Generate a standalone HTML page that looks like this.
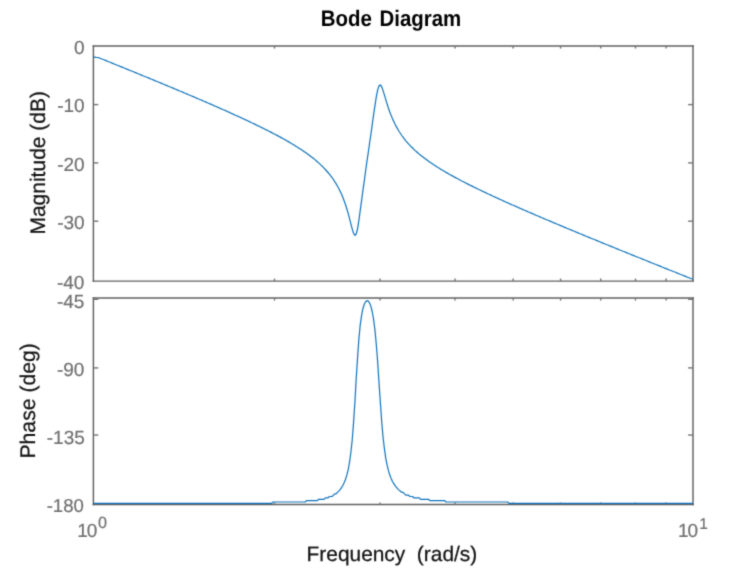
<!DOCTYPE html>
<html lang="en">
<head>
<meta charset="utf-8">
<title>Bode Diagram</title>
<style>
html,body{margin:0;padding:0;background:#fff;}
body{width:751px;height:579px;overflow:hidden;font-family:"Liberation Sans",Arial,Helvetica,sans-serif;}
svg{display:block;}
text{font-family:"Liberation Sans",Arial,Helvetica,sans-serif;text-rendering:geometricPrecision;}
.box line{fill:none;}
.tk line{stroke:#747474;stroke-width:1.4;fill:none;}
.tl text{fill:#707070;font-size:19.0px;stroke:#707070;stroke-width:0.2px;}
.lab{fill:#141414;stroke:#141414;stroke-width:0.25px;}
.title{fill:#000;font-size:20.45px;font-weight:bold;}
.curve{fill:none;stroke:#0f72ba;stroke-width:1.2;stroke-linejoin:round;}
</style>
</head>
<body>
<svg width="751" height="579" viewBox="0 0 751 579">
<defs><filter id="soft" x="0" y="0" width="751" height="579" filterUnits="userSpaceOnUse" color-interpolation-filters="sRGB"><feConvolveMatrix order="3" kernelMatrix="0.0225 0.1050 0.0225 0.1050 0.4900 0.1050 0.0225 0.1050 0.0225" edgeMode="duplicate" preserveAlpha="false"/></filter></defs>
<g filter="url(#soft)">
<rect x="0" y="0" width="751" height="579" fill="#ffffff"/>
<text class="title" transform="translate(391.0,26.4) scale(1,1.10)" text-anchor="middle" word-spacing="2">Bode Diagram</text>
<g class="box">
<line x1="92.68" y1="46.07" x2="693.73" y2="46.07" stroke="#606060" stroke-width="1.45"/>
<line x1="92.68" y1="281.10" x2="693.73" y2="281.10" stroke="#606060" stroke-width="1.45"/>
<line x1="93.40" y1="45.34" x2="93.40" y2="281.83" stroke="#606060" stroke-width="1.45"/>
<line x1="693.00" y1="45.34" x2="693.00" y2="281.83" stroke="#606060" stroke-width="1.45"/>
<line x1="92.68" y1="298.06" x2="693.73" y2="298.06" stroke="#606060" stroke-width="1.45"/>
<line x1="92.68" y1="504.50" x2="693.73" y2="504.50" stroke="#606060" stroke-width="1.45"/>
<line x1="93.40" y1="297.33" x2="93.40" y2="505.23" stroke="#606060" stroke-width="1.45"/>
<line x1="693.00" y1="297.33" x2="693.00" y2="505.23" stroke="#606060" stroke-width="1.45"/>
</g>
<g class="tk">
<line x1="274.50" y1="46.07" x2="274.50" y2="48.57"/>
<line x1="274.50" y1="281.10" x2="274.50" y2="278.60"/>
<line x1="380.08" y1="46.07" x2="380.08" y2="48.57"/>
<line x1="380.08" y1="281.10" x2="380.08" y2="278.60"/>
<line x1="455.00" y1="46.07" x2="455.00" y2="48.57"/>
<line x1="455.00" y1="281.10" x2="455.00" y2="278.60"/>
<line x1="513.10" y1="46.07" x2="513.10" y2="48.57"/>
<line x1="513.10" y1="281.10" x2="513.10" y2="278.60"/>
<line x1="560.58" y1="46.07" x2="560.58" y2="48.57"/>
<line x1="560.58" y1="281.10" x2="560.58" y2="278.60"/>
<line x1="600.72" y1="46.07" x2="600.72" y2="48.57"/>
<line x1="600.72" y1="281.10" x2="600.72" y2="278.60"/>
<line x1="635.49" y1="46.07" x2="635.49" y2="48.57"/>
<line x1="635.49" y1="281.10" x2="635.49" y2="278.60"/>
<line x1="666.16" y1="46.07" x2="666.16" y2="48.57"/>
<line x1="666.16" y1="281.10" x2="666.16" y2="278.60"/>
<line x1="93.40" y1="104.60" x2="98.30" y2="104.60"/>
<line x1="693.00" y1="104.60" x2="688.10" y2="104.60"/>
<line x1="93.40" y1="162.90" x2="98.30" y2="162.90"/>
<line x1="693.00" y1="162.90" x2="688.10" y2="162.90"/>
<line x1="93.40" y1="221.20" x2="98.30" y2="221.20"/>
<line x1="693.00" y1="221.20" x2="688.10" y2="221.20"/>
<line x1="274.50" y1="298.06" x2="274.50" y2="300.56"/>
<line x1="274.50" y1="504.50" x2="274.50" y2="502.60"/>
<line x1="380.08" y1="298.06" x2="380.08" y2="300.56"/>
<line x1="380.08" y1="504.50" x2="380.08" y2="502.60"/>
<line x1="455.00" y1="298.06" x2="455.00" y2="300.56"/>
<line x1="455.00" y1="504.50" x2="455.00" y2="502.60"/>
<line x1="513.10" y1="298.06" x2="513.10" y2="300.56"/>
<line x1="513.10" y1="504.50" x2="513.10" y2="502.60"/>
<line x1="560.58" y1="298.06" x2="560.58" y2="300.56"/>
<line x1="560.58" y1="504.50" x2="560.58" y2="502.60"/>
<line x1="600.72" y1="298.06" x2="600.72" y2="300.56"/>
<line x1="600.72" y1="504.50" x2="600.72" y2="502.60"/>
<line x1="635.49" y1="298.06" x2="635.49" y2="300.56"/>
<line x1="635.49" y1="504.50" x2="635.49" y2="502.60"/>
<line x1="666.16" y1="298.06" x2="666.16" y2="300.56"/>
<line x1="666.16" y1="504.50" x2="666.16" y2="502.60"/>
<line x1="93.40" y1="299.30" x2="98.30" y2="299.30" stroke="#484848"/>
<line x1="693.00" y1="299.30" x2="688.10" y2="299.30" stroke="#484848"/>
<line x1="93.40" y1="367.90" x2="98.30" y2="367.90"/>
<line x1="693.00" y1="367.90" x2="688.10" y2="367.90"/>
<line x1="93.40" y1="435.05" x2="98.30" y2="435.05"/>
<line x1="693.00" y1="435.05" x2="688.10" y2="435.05"/>
</g>
<path class="curve" d="M93.3,57.1 L94.6,57.2 L96.0,57.4 L97.3,57.5 L98.7,57.7 L100.0,58.2 L101.3,58.7 L102.7,59.3 L104.0,59.8 L105.4,60.4 L106.7,60.9 L108.1,61.5 L109.4,62.0 L110.7,62.5 L112.1,63.1 L113.4,63.6 L114.8,64.2 L116.1,64.7 L117.4,65.3 L118.8,65.8 L120.1,66.4 L121.5,66.9 L122.8,67.4 L124.2,68.0 L125.5,68.5 L126.8,69.1 L128.2,69.6 L129.5,70.2 L130.9,70.7 L132.2,71.3 L133.5,71.8 L134.9,72.4 L136.2,72.9 L137.6,73.5 L138.9,74.0 L140.2,74.6 L141.6,75.1 L142.9,75.7 L144.3,76.2 L145.6,76.8 L147.0,77.3 L148.3,77.9 L149.6,78.4 L151.0,79.0 L152.3,79.5 L153.7,80.1 L155.0,80.6 L156.3,81.2 L157.7,81.7 L159.0,82.3 L160.4,82.9 L161.7,83.4 L163.1,84.0 L164.4,84.5 L165.7,85.1 L167.1,85.6 L168.4,86.2 L169.8,86.8 L171.1,87.3 L172.4,87.9 L173.8,88.4 L175.1,89.0 L176.5,89.6 L177.8,90.1 L179.1,90.7 L180.5,91.3 L181.8,91.8 L183.2,92.4 L184.5,93.0 L185.9,93.5 L187.2,94.1 L188.5,94.7 L189.9,95.2 L191.2,95.8 L192.6,96.4 L193.9,96.9 L195.2,97.5 L196.6,98.1 L197.9,98.7 L199.3,99.2 L200.6,99.8 L202.0,100.4 L203.3,101.0 L204.6,101.5 L206.0,102.1 L207.3,102.7 L208.7,103.3 L210.0,103.9 L211.3,104.4 L212.7,105.0 L214.0,105.6 L215.4,106.2 L216.7,106.8 L218.0,107.4 L219.4,108.0 L220.7,108.6 L222.1,109.2 L223.4,109.8 L224.8,110.3 L226.1,110.9 L227.4,111.5 L228.8,112.1 L230.1,112.7 L231.5,113.4 L232.8,114.0 L234.1,114.6 L235.5,115.2 L236.8,115.8 L238.2,116.4 L239.5,117.0 L240.9,117.6 L242.2,118.3 L243.5,118.9 L244.9,119.5 L246.2,120.1 L247.6,120.8 L248.9,121.4 L250.2,122.0 L251.6,122.7 L252.9,123.3 L254.3,123.9 L255.6,124.6 L256.9,125.2 L258.3,125.9 L259.6,126.5 L261.0,127.2 L262.3,127.9 L263.7,128.5 L265.0,129.2 L266.3,129.9 L267.7,130.5 L269.0,131.2 L270.4,131.9 L271.7,132.6 L273.0,133.3 L274.4,134.0 L275.7,134.7 L277.1,135.4 L278.4,136.1 L279.8,136.9 L281.1,137.6 L282.4,138.3 L283.8,139.1 L285.1,139.8 L286.5,140.6 L287.8,141.4 L289.1,142.1 L290.5,142.9 L291.8,143.7 L293.2,144.5 L294.5,145.3 L295.8,146.2 L297.2,147.0 L298.5,147.9 L299.9,148.7 L301.2,149.6 L302.6,150.5 L303.9,151.4 L305.2,152.3 L306.6,153.3 L307.9,154.2 L309.3,155.2 L310.6,156.2 L311.9,157.3 L313.3,158.3 L314.6,159.4 L316.0,160.5 L317.3,161.7 L318.7,162.9 L320.0,164.1 L321.3,165.4 L322.7,166.7 L324.0,168.1 L325.4,169.5 L326.7,171.0 L328.0,172.5 L329.4,174.1 L330.7,175.8 L332.1,177.6 L333.4,179.5 L334.7,181.6 L336.1,183.7 L337.4,186.0 L338.8,188.5 L340.1,191.2 L341.5,194.1 L342.8,197.3 L344.1,200.7 L345.5,204.5 L346.8,208.7 L348.2,213.3 L349.5,218.3 L350.8,223.6 L352.2,228.8 L353.5,233.2 L354.9,235.4 L356.2,234.0 L357.6,228.6 L358.9,220.4 L360.2,210.7 L361.6,200.6 L362.9,190.6 L364.3,180.8 L365.6,171.2 L366.9,161.7 L368.3,152.3 L369.6,143.0 L371.0,133.6 L372.3,124.1 L373.6,114.6 L375.0,105.3 L376.3,96.8 L377.7,89.9 L379.0,85.8 L380.4,84.9 L381.7,86.8 L383.0,90.4 L384.4,94.9 L385.7,99.4 L387.1,103.9 L388.4,108.0 L389.7,111.8 L391.1,115.4 L392.4,118.6 L393.8,121.6 L395.1,124.3 L396.5,126.9 L397.8,129.2 L399.1,131.5 L400.5,133.5 L401.8,135.5 L403.2,137.3 L404.5,139.1 L405.8,140.8 L407.2,142.3 L408.5,143.9 L409.9,145.3 L411.2,146.7 L412.6,148.0 L413.9,149.3 L415.2,150.6 L416.6,151.8 L417.9,153.0 L419.3,154.1 L420.6,155.2 L421.9,156.3 L423.3,157.3 L424.6,158.3 L426.0,159.3 L427.3,160.3 L428.6,161.3 L430.0,162.2 L431.3,163.1 L432.7,164.0 L434.0,164.9 L435.4,165.8 L436.7,166.7 L438.0,167.5 L439.4,168.3 L440.7,169.2 L442.1,170.0 L443.4,170.8 L444.7,171.6 L446.1,172.4 L447.4,173.1 L448.8,173.9 L450.1,174.7 L451.5,175.4 L452.8,176.1 L454.1,176.9 L455.5,177.6 L456.8,178.3 L458.2,179.0 L459.5,179.8 L460.8,180.5 L462.2,181.2 L463.5,181.8 L464.9,182.5 L466.2,183.2 L467.5,183.9 L468.9,184.6 L470.2,185.2 L471.6,185.9 L472.9,186.6 L474.3,187.2 L475.6,187.9 L476.9,188.5 L478.3,189.2 L479.6,189.8 L481.0,190.5 L482.3,191.1 L483.6,191.8 L485.0,192.4 L486.3,193.0 L487.7,193.7 L489.0,194.3 L490.4,194.9 L491.7,195.5 L493.0,196.2 L494.4,196.8 L495.7,197.4 L497.1,198.0 L498.4,198.6 L499.7,199.2 L501.1,199.8 L502.4,200.5 L503.8,201.1 L505.1,201.7 L506.4,202.3 L507.8,202.9 L509.1,203.5 L510.5,204.1 L511.8,204.7 L513.2,205.2 L514.5,205.8 L515.8,206.4 L517.2,207.0 L518.5,207.6 L519.9,208.2 L521.2,208.8 L522.5,209.4 L523.9,210.0 L525.2,210.5 L526.6,211.1 L527.9,211.7 L529.3,212.3 L530.6,212.9 L531.9,213.4 L533.3,214.0 L534.6,214.6 L536.0,215.2 L537.3,215.7 L538.6,216.3 L540.0,216.9 L541.3,217.5 L542.7,218.0 L544.0,218.6 L545.3,219.2 L546.7,219.7 L548.0,220.3 L549.4,220.9 L550.7,221.4 L552.1,222.0 L553.4,222.6 L554.7,223.1 L556.1,223.7 L557.4,224.3 L558.8,224.8 L560.1,225.4 L561.4,225.9 L562.8,226.5 L564.1,227.1 L565.5,227.6 L566.8,228.2 L568.2,228.7 L569.5,229.3 L570.8,229.9 L572.2,230.4 L573.5,231.0 L574.9,231.5 L576.2,232.1 L577.5,232.6 L578.9,233.2 L580.2,233.8 L581.6,234.3 L582.9,234.9 L584.2,235.4 L585.6,236.0 L586.9,236.5 L588.3,237.1 L589.6,237.6 L591.0,238.2 L592.3,238.7 L593.6,239.3 L595.0,239.8 L596.3,240.4 L597.7,240.9 L599.0,241.5 L600.3,242.0 L601.7,242.6 L603.0,243.1 L604.4,243.7 L605.7,244.2 L607.1,244.8 L608.4,245.3 L609.7,245.9 L611.1,246.4 L612.4,246.9 L613.8,247.5 L615.1,248.0 L616.4,248.6 L617.8,249.1 L619.1,249.7 L620.5,250.2 L621.8,250.8 L623.1,251.3 L624.5,251.8 L625.8,252.4 L627.2,252.9 L628.5,253.5 L629.9,254.0 L631.2,254.6 L632.5,255.1 L633.9,255.6 L635.2,256.2 L636.6,256.7 L637.9,257.3 L639.2,257.8 L640.6,258.3 L641.9,258.9 L643.3,259.4 L644.6,260.0 L646.0,260.5 L647.3,261.0 L648.6,261.6 L650.0,262.1 L651.3,262.7 L652.7,263.2 L654.0,263.7 L655.3,264.3 L656.7,264.8 L658.0,265.4 L659.4,265.9 L660.7,266.4 L662.0,267.0 L663.4,267.5 L664.7,268.1 L666.1,268.6 L667.4,269.1 L668.8,269.7 L670.1,270.2 L671.4,270.7 L672.8,271.3 L674.1,271.8 L675.5,272.3 L676.8,272.9 L678.1,273.4 L679.5,274.0 L680.8,274.5 L682.2,275.0 L683.5,275.6 L684.9,276.1 L686.2,276.6 L687.5,277.2 L688.9,277.7 L690.2,278.2 L691.6,278.8 L692.9,279.3"/>
<path class="curve" d="M93.3,503.4 L271.7,503.4 L273.0,502.0 L305.2,502.0 L306.6,500.6 L317.3,500.6 L318.7,499.3 L324.0,499.3 L325.4,497.9 L328.0,497.9 L329.4,496.5 L332.1,496.5 L333.4,495.1 L334.7,493.8 L336.1,493.8 L337.4,492.4 L338.8,491.1 L340.1,489.6 L341.5,487.7 L342.8,485.5 L344.1,482.8 L345.5,479.4 L346.8,475.2 L348.2,469.7 L349.5,462.5 L350.8,453.0 L352.2,440.2 L353.5,423.4 L354.9,402.4 L356.2,379.2 L357.6,357.1 L358.9,338.9 L360.2,325.2 L361.6,315.4 L362.9,308.7 L364.3,304.2 L365.6,301.7 L366.9,300.7 L368.3,301.1 L369.6,303.0 L371.0,306.6 L372.3,312.0 L373.6,319.7 L375.0,330.4 L376.3,344.5 L377.7,362.2 L379.0,382.5 L380.4,403.0 L381.7,421.5 L383.0,436.7 L384.4,448.6 L385.7,457.8 L387.1,464.9 L388.4,470.4 L389.7,474.8 L391.1,478.4 L392.4,481.3 L393.8,483.7 L395.1,485.7 L396.5,487.4 L397.8,488.9 L399.1,490.1 L400.5,491.2 L401.8,492.4 L403.2,492.4 L404.5,493.8 L405.8,495.1 L408.5,495.1 L409.9,496.5 L412.6,496.5 L413.9,497.9 L419.3,497.9 L420.6,499.3 L428.6,499.3 L430.0,500.6 L444.7,500.6 L446.1,502.0 L507.8,502.0 L509.1,503.4 L692.9,503.4"/>
<g class="tl">
<text x="84.60" y="53.90" text-anchor="end">0</text>
<text x="84.60" y="112.40" text-anchor="end">-10</text>
<text x="84.60" y="170.80" text-anchor="end">-20</text>
<text x="84.60" y="229.30" text-anchor="end">-30</text>
<text x="84.40" y="288.90" text-anchor="end">-40</text>
<text x="84.40" y="307.70" text-anchor="end">-45</text>
<text x="84.40" y="375.60" text-anchor="end">-90</text>
<text x="84.80" y="444.20" text-anchor="end">-135</text>
<text x="83.85" y="512.25" text-anchor="end" style="font-size:18.6px">-180</text>
<text x="77.2" y="536.7" letter-spacing="-1">10<tspan x="97.9" dy="-8.9" font-size="16.2px">0</tspan></text>
<text x="678.05" y="536.7" letter-spacing="-1">10<tspan x="699.25" dy="-8.2" font-size="15.5px">1</tspan></text>
</g>
<text class="lab" x="391.9" y="560.9" font-size="20.9" text-anchor="middle" xml:space="preserve" style="white-space:pre">Frequency  (rad/s)</text>
<text class="lab" transform="translate(44.6,162.8) rotate(-90)" font-size="21.0" text-anchor="middle">Magnitude (dB)</text>
<text class="lab" transform="translate(34.7,400.85) rotate(-90)" font-size="21.2" text-anchor="middle">Phase (deg)</text>
</g>
</svg>
</body>
</html>
